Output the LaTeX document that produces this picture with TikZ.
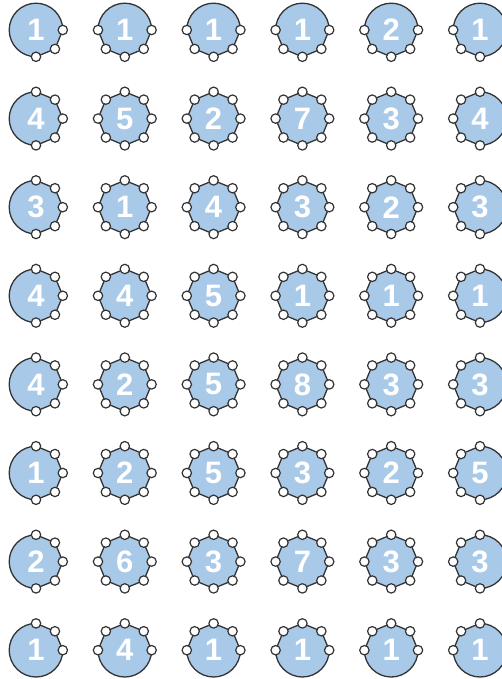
\documentclass[tikz,border=0pt]{standalone}
\usepackage{fontspec}
\setmainfont{Liberation Sans}
\definecolor{cellfill}{HTML}{A9C9E9}
\definecolor{edgegray}{HTML}{333333}
\tikzset{
  cellbody/.style={fill=cellfill, draw=edgegray, line width=1.3pt},
  nbdot/.style={circle, fill=white, draw=edgegray, line width=1.2pt, inner sep=0pt, minimum size=9.4pt},
  cellnum/.style={text=white, font=\fontsize{31}{31}\selectfont\bfseries, inner sep=0pt},
}
\def\R{26.8}
\def\gparse#1#2#3#4#5#6#7#8{%
  \expandafter\gdef\csname gf0\endcsname{#1}%
  \expandafter\gdef\csname gf1\endcsname{#2}%
  \expandafter\gdef\csname gf2\endcsname{#3}%
  \expandafter\gdef\csname gf3\endcsname{#4}%
  \expandafter\gdef\csname gf4\endcsname{#5}%
  \expandafter\gdef\csname gf5\endcsname{#6}%
  \expandafter\gdef\csname gf6\endcsname{#7}%
  \expandafter\gdef\csname gf7\endcsname{#8}}
\newcommand\glyph[5]{%
  \pgfmathsetmacro\gx{36+88.8*(#2-1)}%
  \pgfmathsetmacro\gy{679-30-88.6*(#3-1)}%
  \gparse#5%
  \gdef\gpath{(0:\R)}%
  \foreach \k in {0,...,7}{%
    \pgfmathtruncatemacro\n{mod(\k+1,8)}%
    \pgfmathtruncatemacro\a{\k*45}%
    \pgfmathtruncatemacro\b{(\k+1)*45}%
    \edef\fa{\csname gf\k\endcsname}%
    \edef\fb{\csname gf\n\endcsname}%
    \ifnum\fa\fb=11
      \xdef\gpath{\gpath -- (\b:\R)}%
    \else
      \xdef\gpath{\gpath arc[start angle=\a, end angle=\b, radius=\R]}%
    \fi
  }%
  \begin{scope}[shift={(\gx,\gy)}]
    \edef\tmp{\noexpand\path[cellbody] \gpath -- cycle;}\tmp
    \node[cellnum] (#1) at (0,0) {#4};
    \foreach \k in {0,...,7}{%
      \pgfmathtruncatemacro\a{\k*45}%
      \edef\fa{\csname gf\k\endcsname}%
      \ifnum\fa=1 \node[nbdot] (#1-d\k) at (\a:\R) {};\fi
    }%
  \end{scope}%
}
\begin{document}
\begin{tikzpicture}[x=1pt,y=1pt]
\useasboundingbox (0,0) rectangle (502,679);
\clip (0,0) rectangle (502,679);
% row 1
\glyph{g11}{1}{1}{1}{10000011}
\glyph{g12}{2}{1}{1}{10001111}
\glyph{g13}{3}{1}{1}{10001111}
\glyph{g14}{4}{1}{1}{10001111}
\glyph{g15}{5}{1}{2}{10001111}
\glyph{g16}{6}{1}{1}{00001110}
% row 2
\glyph{g21}{1}{2}{4}{11100011}
\glyph{g22}{2}{2}{5}{11111111}
\glyph{g23}{3}{2}{2}{11111111}
\glyph{g24}{4}{2}{7}{11111111}
\glyph{g25}{5}{2}{3}{11111111}
\glyph{g26}{6}{2}{4}{00111110}
% row 3
\glyph{g31}{1}{3}{3}{11100011}
\glyph{g32}{2}{3}{1}{11111111}
\glyph{g33}{3}{3}{4}{11111111}
\glyph{g34}{4}{3}{3}{11111111}
\glyph{g35}{5}{3}{2}{11111111}
\glyph{g36}{6}{3}{3}{00111110}
% row 4
\glyph{g41}{1}{4}{4}{11100011}
\glyph{g42}{2}{4}{4}{11111111}
\glyph{g43}{3}{4}{5}{11111111}
\glyph{g44}{4}{4}{1}{11111111}
\glyph{g45}{5}{4}{1}{11111111}
\glyph{g46}{6}{4}{1}{00111110}
% row 5
\glyph{g51}{1}{5}{4}{11100011}
\glyph{g52}{2}{5}{2}{11111111}
\glyph{g53}{3}{5}{5}{11111111}
\glyph{g54}{4}{5}{8}{11111111}
\glyph{g55}{5}{5}{3}{11111111}
\glyph{g56}{6}{5}{3}{00111110}
% row 6
\glyph{g61}{1}{6}{1}{11100011}
\glyph{g62}{2}{6}{2}{11111111}
\glyph{g63}{3}{6}{5}{11111111}
\glyph{g64}{4}{6}{3}{11111111}
\glyph{g65}{5}{6}{2}{11111111}
\glyph{g66}{6}{6}{5}{00111110}
% row 7
\glyph{g71}{1}{7}{2}{11100011}
\glyph{g72}{2}{7}{6}{11111111}
\glyph{g73}{3}{7}{3}{11111111}
\glyph{g74}{4}{7}{7}{11111111}
\glyph{g75}{5}{7}{3}{11111111}
\glyph{g76}{6}{7}{3}{00111110}
% row 8
\glyph{g81}{1}{8}{1}{11100000}
\glyph{g82}{2}{8}{4}{11111000}
\glyph{g83}{3}{8}{1}{11111000}
\glyph{g84}{4}{8}{1}{11111000}
\glyph{g85}{5}{8}{1}{11111000}
\glyph{g86}{6}{8}{1}{00111000}
\end{tikzpicture}
\end{document}
